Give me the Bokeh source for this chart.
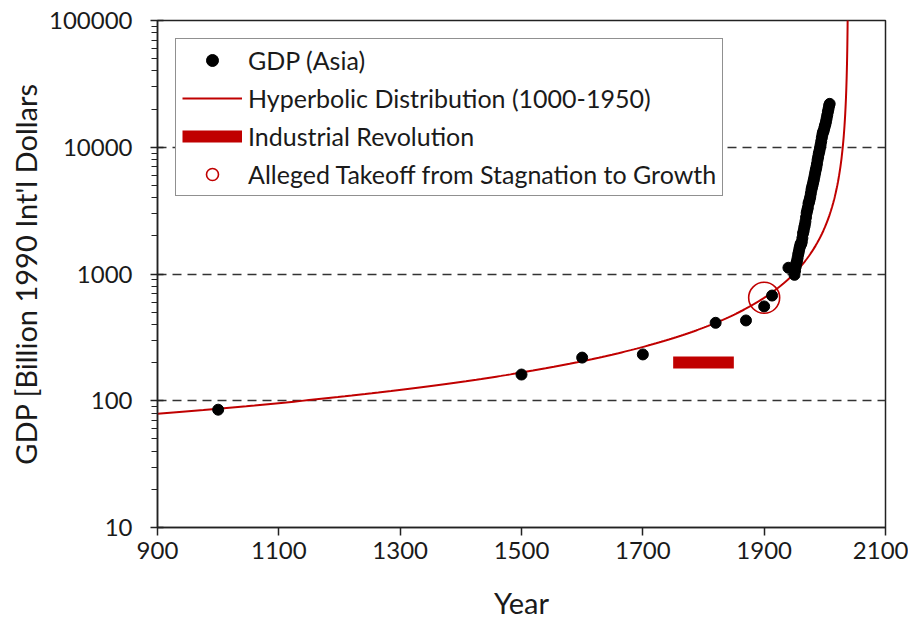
from bokeh.plotting import figure
from bokeh.models import FixedTicker, PrintfTickFormatter, Legend, LegendItem, Range1d
from bokeh.embed import file_html
from bokeh.resources import INLINE
import numpy as np

# ---- data ----
gdp_years_early = [1000, 1500, 1600, 1700, 1820, 1870, 1900, 1913, 1940]
gdp_values_early = [85, 161, 219, 232, 412, 430, 555, 676, 1120]

gdp_years_modern = list(range(1950, 2009))
gdp_values_modern = [
    985, 1060, 1140, 1210, 1260, 1330, 1420, 1490, 1580, 1650,
    1730, 1720, 1790, 1920, 2090, 2180, 2320, 2430, 2590, 2800,
    3030, 3180, 3330, 3590, 3700, 3870, 4060, 4330, 4630, 4850,
    5060, 5330, 5590, 5900, 6260, 6600, 6930, 7370, 7920, 8380,
    8900, 9300, 9850, 10430, 11100, 11850, 12580, 13170, 13420, 14050,
    14700, 15200, 16000, 16900, 17900, 19000, 20000, 21200, 22000,
]

# hyperbolic fit G = C / (t0 - t), fitted over 1000-1950
hyp_c = 89900.0
hyp_t0 = 2038.5
hyp_start = 900

ir_years = [1750, 1850]
ir_value = 200

takeoff_year = [1900]

x_ticks = [900, 1100, 1300, 1500, 1700, 1900, 2100]
y_ticks = [10, 100, 1000, 10000, 100000]
grid_levels = [100, 1000, 10000]

years = gdp_years_early + gdp_years_modern
values = gdp_values_early + gdp_values_modern

hyp_t = hyp_t0 - np.geomspace(hyp_t0 - hyp_start, 0.3, 600)
hyp_g = hyp_c / (hyp_t0 - hyp_t)
takeoff_val = [hyp_c / (hyp_t0 - takeoff_year[0])]

RED = "#C00000"
FONT = "Lato"

p = figure(
    output_backend="svg", toolbar_location=None,
    frame_width=728, frame_height=507,
    min_border_left=157, min_border_top=20, min_border_right=23, min_border_bottom=87,
    y_axis_type="log",
    x_range=Range1d(900, 2100), y_range=Range1d(10, 100000),
    background_fill_color="white", border_fill_color="white",
)
p.outline_line_color = "#222222"
p.outline_line_width = 1.5

# grids
p.xgrid.visible = False
p.ygrid.ticker = FixedTicker(ticks=grid_levels)
p.ygrid.grid_line_color = "#333333"
p.ygrid.grid_line_dash = "9 6"
p.ygrid.grid_line_width = 1.6
p.ygrid.minor_grid_line_color = None

# axes
p.xaxis.ticker = FixedTicker(ticks=x_ticks, minor_ticks=[])
minor = [m * d for d in [10, 100, 1000, 10000] for m in range(2, 10)]
p.yaxis.ticker = FixedTicker(ticks=y_ticks, minor_ticks=minor)
p.yaxis.formatter = PrintfTickFormatter(format="%d")

for ax in (p.xaxis, p.yaxis):
    ax.axis_line_color = "#222222"
    ax.axis_line_width = 1.5
    ax.major_tick_line_color = "#222222"
    ax.major_tick_line_width = 1.5
    ax.minor_tick_line_color = "#222222"
    ax.minor_tick_line_width = 1.2
    ax.major_label_text_font = FONT
    ax.major_label_text_font_size = "24px"
    ax.major_label_text_color = "#1a1a1a"
    ax.axis_label_text_font = FONT
    ax.axis_label_text_font_size = "29px"
    ax.axis_label_text_font_style = "normal"
    ax.axis_label_text_color = "#1a1a1a"

p.xaxis.major_tick_out = 8
p.xaxis.major_tick_in = 0
p.xaxis.major_label_standoff = 6
p.xaxis.axis_label = "Year"
p.xaxis.axis_label_standoff = 23

p.yaxis.major_tick_out = 7
p.yaxis.major_tick_in = 6
p.yaxis.minor_tick_out = 6
p.yaxis.minor_tick_in = 0
p.yaxis.major_label_standoff = 18
p.yaxis.axis_label = "GDP [Billion 1990 Int'l Dollars"
p.yaxis.axis_label_standoff = 3

# glyphs
r_ir = p.line(ir_years, [ir_value, ir_value], line_color=RED, line_width=12, line_cap="butt")
r_hyp = p.line(hyp_t, hyp_g, line_color=RED, line_width=2)
r_gdp = p.scatter(years, values, size=11, color="black")
r_take = p.scatter(takeoff_year, takeoff_val, size=31, fill_color=None,
                   line_color=RED, line_width=1.6)

legend = Legend(items=[
    LegendItem(label="GDP (Asia)", renderers=[r_gdp]),
    LegendItem(label="Hyperbolic Distribution (1000-1950)", renderers=[r_hyp]),
    LegendItem(label="Industrial Revolution", renderers=[r_ir]),
    LegendItem(label="Alleged Takeoff from Stagnation to Growth", renderers=[r_take]),
])
legend.location = "top_left"
legend.margin = 18
legend.padding = 6
legend.spacing = 8
legend.glyph_height = 30
legend.glyph_width = 60
legend.label_height = 30
legend.label_standoff = 6
legend.label_text_font = FONT
legend.label_text_font_size = "25px"
legend.label_text_color = "#1a1a1a"
legend.border_line_color = "#222222"
legend.border_line_width = 1.5
legend.background_fill_color = "white"
legend.background_fill_alpha = 1.0
p.add_layout(legend, "center")

open("out.html", "w").write(file_html(p, INLINE))
